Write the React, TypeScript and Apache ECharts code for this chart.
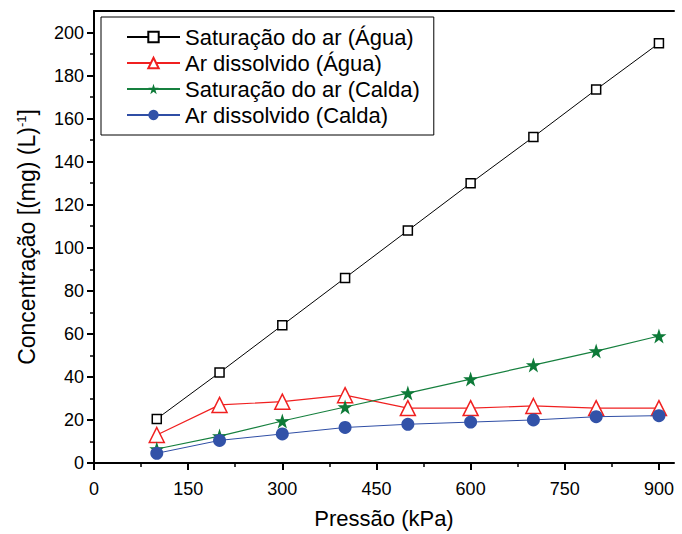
import React, { useEffect, useRef } from "react";
import * as echarts from "echarts";

const pressures = [100, 200, 300, 400, 500, 600, 700, 800, 900];
const satAgua = [20.5, 42, 64, 86, 108, 130, 151.5, 173.5, 195];
const dissAgua = [13, 27, 28.5, 31.5, 25.5, 25.5, 26.5, 25.5, 25.5];
const satCalda = [6.5, 12.5, 19.5, 26, 32.5, 39, 45.5, 52, 59];
const dissCalda = [4.5, 10.5, 13.5, 16.5, 18, 19, 20, 21.5, 22];

const seriesNames = [
  "Saturação do ar (Água)",
  "Ar dissolvido (Água)",
  "Saturação do ar (Calda)",
  "Ar dissolvido (Calda)",
];

const xMajorTicks = [0, 150, 300, 450, 600, 750, 900];
const xMinorTicks = [75, 225, 375, 525, 675, 825];
const yMajorTicks = [0, 20, 40, 60, 80, 100, 120, 140, 160, 180, 200];
const yMinorTicks = [10, 30, 50, 70, 90, 110, 130, 150, 170, 190];

const X_MAX = 924;
const Y_MAX = 210;

const STAR =
  "path://M50,0 L61.8,35.3 L98.9,35.3 L68.9,57.1 L80.3,92.4 L50,70.6 L19.7,92.4 L31.1,57.1 L1.1,35.3 L38.2,35.3 Z";

const FONT = "'Liberation Sans', Arial, sans-serif";

function pairs(ys: number[]) {
  return pressures.map((x, i) => [x, ys[i]]);
}

export default function App() {
  const ref = useRef<HTMLDivElement>(null);

  useEffect(() => {
    document.body.style.margin = "0";
    if (!ref.current) return;
    const chart = echarts.init(ref.current, undefined, { renderer: "svg" });

    const axisLine = { show: true, lineStyle: { color: "#000", width: 2 } };

    chart.setOption({
      animation: false,
      backgroundColor: "#fff",
      textStyle: { fontFamily: FONT },
      grid: { left: 94, right: 8, top: 11, bottom: 69, containLabel: false },
      legend: {
        show: true,
        orient: "vertical",
        left: 101,
        top: 17,
        data: seriesNames,
        itemWidth: 53,
        itemHeight: 13,
        itemGap: 4,
        padding: [9, 14, 9, 25],
        borderColor: "#000",
        borderWidth: 1,
        backgroundColor: "#fff",
        textStyle: { fontSize: 22, color: "#000", fontFamily: FONT, lineHeight: 22 },
      },
      xAxis: [
        {
          type: "value",
          position: "bottom",
          min: 0,
          max: X_MAX,
          axisLine,
          splitLine: { show: false },
          axisTick: {
            show: true,
            inside: false,
            length: 7,
            customValues: xMajorTicks,
            lineStyle: { color: "#000", width: 2 },
          },
          axisLabel: {
            customValues: xMajorTicks,
            margin: 17,
            fontSize: 18,
            color: "#000",
            fontFamily: FONT,
          },
          name: "Pressão (kPa)",
          nameLocation: "middle",
          nameGap: 44,
          nameTextStyle: { fontSize: 22, color: "#000", fontFamily: FONT },
        },
        {
          type: "value",
          position: "bottom",
          min: 0,
          max: X_MAX,
          axisLine: { show: false },
          splitLine: { show: false },
          axisTick: {
            show: true,
            inside: false,
            length: 4,
            customValues: xMinorTicks,
            lineStyle: { color: "#000", width: 1.5 },
          },
          axisLabel: { show: false },
        },
        {
          type: "value",
          position: "top",
          min: 0,
          max: X_MAX,
          axisLine,
          splitLine: { show: false },
          axisTick: { show: false },
          axisLabel: { show: false },
        },
      ],
      yAxis: [
        {
          type: "value",
          position: "left",
          min: 0,
          max: Y_MAX,
          axisLine,
          splitLine: { show: false },
          axisTick: {
            show: true,
            inside: false,
            length: 7,
            customValues: yMajorTicks,
            lineStyle: { color: "#000", width: 2 },
          },
          axisLabel: {
            customValues: yMajorTicks,
            margin: 10,
            fontSize: 18,
            color: "#000",
            fontFamily: FONT,
          },
          name: "{a|Concentração [(mg) (L)}{s|-1}{a|]}",
          nameLocation: "middle",
          nameGap: 55,
          nameTextStyle: {
            color: "#000",
            fontFamily: FONT,
            rich: {
              a: { fontSize: 23, color: "#000", fontFamily: FONT },
              s: {
                fontSize: 13,
                color: "#000",
                fontFamily: FONT,
                padding: [0, 0, 11, 0],
              },
            },
          },
        },
        {
          type: "value",
          position: "left",
          min: 0,
          max: Y_MAX,
          axisLine: { show: false },
          splitLine: { show: false },
          axisTick: {
            show: true,
            inside: false,
            length: 4,
            customValues: yMinorTicks,
            lineStyle: { color: "#000", width: 1.5 },
          },
          axisLabel: { show: false },
        },
      ],
      series: [
        {
          name: seriesNames[0],
          type: "line",
          data: pairs(satAgua),
          symbol: "rect",
          symbolSize: 9,
          lineStyle: { color: "#000", width: 1 },
          itemStyle: { color: "#fff", borderColor: "#000", borderWidth: 1.5 },
          z: 2,
        },
        {
          name: seriesNames[1],
          type: "line",
          data: pairs(dissAgua),
          symbol: "triangle",
          symbolSize: 15,
          lineStyle: { color: "#f02020", width: 1.2 },
          itemStyle: { color: "#fff", borderColor: "#f02020", borderWidth: 1.5 },
          z: 3,
        },
        {
          name: seriesNames[2],
          type: "line",
          data: pairs(satCalda),
          symbol: STAR,
          symbolSize: 15,
          lineStyle: { color: "#17803f", width: 1.2 },
          itemStyle: { color: "#0d7a38", borderColor: "#0d7a38", borderWidth: 0 },
          z: 4,
        },
        {
          name: seriesNames[3],
          type: "line",
          data: pairs(dissCalda),
          symbol: "circle",
          symbolSize: 13,
          lineStyle: { color: "#2f4ea5", width: 1 },
          itemStyle: { color: "#3252a8", borderColor: "#3252a8", borderWidth: 0 },
          z: 5,
        },
      ],
    });

    return () => chart.dispose();
  }, []);

  return <div ref={ref} style={{ width: 682, height: 534 }} />;
}
